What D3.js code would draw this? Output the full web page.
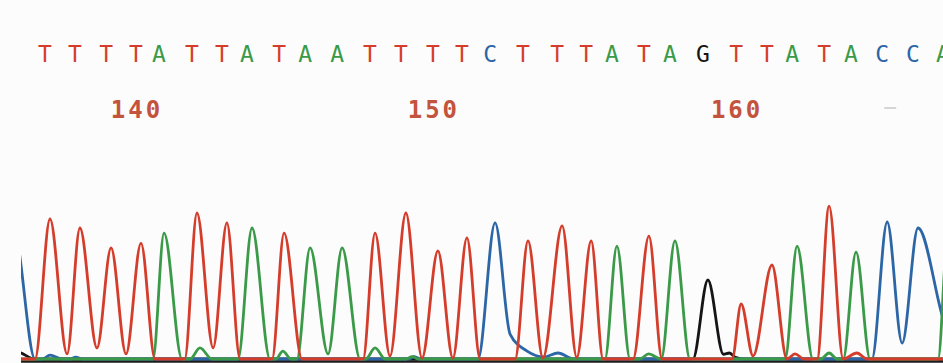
<!DOCTYPE html>
<html>
<head>
<meta charset="utf-8">
<script src="https://cdn.jsdelivr.net/npm/d3@7/dist/d3.min.js"></script>
<style>
  html, body { margin: 0; padding: 0; background: #ffffff; }
  svg { display: block; }
</style>
</head>
<body>
<div id="chart"></div>
<script>
// ---- DATA ----
const bases = ["T","T","T","T","A","T","T","A","T","A","A","T","T","T","T","C","T","T","T","A","T","A","G","T","T","A","T","A","C","C","A"];
// peak positions of each called base (in base-index units)
const basePos = [0,1.00,2.04,3.04,3.81,4.91,5.91,6.75,7.82,8.69,9.76,10.86,11.89,12.96,13.93,14.87,15.97,17.11,18.08,18.94,20.01,20.88,21.98,23.09,24.12,24.96,26.03,26.93,27.97,29.00,30.00];
const tickLabels = ["140","150","160"];
const tickIndex = [3,13,23];
const minorTickIndex = [28];

// traces: [position, signal]
const traceT = [[-1.6,0],[-0.5,0],[0,886],[0.57,32],[1.0,829],[1.57,70],[2.04,703],[2.54,32],[3.04,734],[3.51,0],[4.5,0],[4.91,924],[5.45,70],[5.91,861],[6.35,0],[7.42,0],[7.82,797],[8.42,0],[10.46,0],[10.86,797],[11.36,19],[11.89,924],[12.43,6],[12.96,684],[13.46,6],[13.93,766],[14.37,0],[15.54,0],[15.97,747],[16.47,6],[17.11,842],[17.6,10],[18.08,747],[18.48,0],[19.48,0],[20.01,778],[20.45,0],[22.79,0],[23.09,348],[23.49,19],[24.12,595],[24.62,0],[24.89,32],[25.2,0],[25.63,0],[26.03,968],[26.5,0],[26.96,38],[27.3,0],[31,0]];
const traceA = [[-1.6,0],[3.44,0],[3.81,797],[4.41,0],[4.68,0],[5.01,70],[5.41,0],[6.28,0],[6.75,829],[7.35,0],[7.55,0],[7.78,50],[8.05,0],[8.25,0],[8.69,703],[9.29,32],[9.76,703],[10.36,0],[10.55,0],[10.86,70],[11.2,0],[11.9,0],[12.1,15],[12.3,0],[18.54,0],[18.94,715],[19.38,0],[19.7,0],[20.0,32],[20.42,0],[20.88,747],[21.38,0],[24.56,0],[24.96,715],[25.49,0],[25.75,0],[26.03,38],[26.3,0],[26.5,0],[26.93,677],[27.4,0],[29.67,0],[30.0,800],[30.5,0]];
const traceC = [[-1.9,0],[-1.2,800],[-0.5,0],[-0.25,0],[0,25],[0.4,0],[0.7,0],[0.85,12],[1.1,0],[12.0,0],[12.15,15],[12.4,0],[14.3,0],[14.87,861],[15.37,158],[15.94,50],[16.5,13],[16.97,38],[17.5,0],[27.46,0],[27.97,867],[28.47,101],[29.0,829],[29.83,260],[30.3,0],[31,0]];
const traceG = [[-1.6,60],[-1.0,40],[-0.5,0],[21.48,0],[21.98,500],[22.5,30],[22.7,38],[22.9,10],[23.2,0],[31,0]];

const colors = { T: "#d43d2b", A: "#3a9a48", C: "#2c66a6", G: "#151515" };
const tickColor = "#c4533d";

// ---- DRAW ----
const W = 943, H = 363;
const svg = d3.select("#chart").append("svg").attr("width", W).attr("height", H);
svg.append("rect").attr("width", W).attr("height", H).attr("fill", "#fcfcfc");

const x = d3.scaleLinear().domain([0, 29]).range([50, 918]);
const y = d3.scaleLinear().domain([0, 1000]).range([359, 201]);

// base calls
svg.append("g").selectAll("text").data(bases).join("text")
  .attr("x", (d, i) => x(basePos[i]) - 5)
  .attr("y", 62)
  .attr("text-anchor", "middle")
  .attr("font-family", "DejaVu Sans Mono, monospace")
  .attr("font-size", 23)
  .attr("fill", d => colors[d])
  .text(d => d);

// position labels
svg.append("g").selectAll("text").data(tickLabels).join("text")
  .attr("x", (d, i) => x(basePos[tickIndex[i]]) - 4)
  .attr("y", 118)
  .attr("text-anchor", "middle")
  .attr("font-family", "DejaVu Sans Mono, monospace")
  .attr("font-weight", "bold")
  .attr("font-size", 24)
  .attr("letter-spacing", 3)
  .attr("fill", tickColor)
  .text(d => d);

svg.append("g").selectAll("line").data(minorTickIndex).join("line")
  .attr("x1", d => x(basePos[d]) - 3)
  .attr("x2", d => x(basePos[d]) + 9)
  .attr("y1", 108).attr("y2", 108)
  .attr("stroke", "#c8c8c8").attr("stroke-width", 1.5);

// traces
svg.append("clipPath").attr("id", "plotclip").append("rect")
  .attr("x", 21).attr("y", 150).attr("width", W - 21).attr("height", H - 150);

const plot = svg.append("g").attr("clip-path", "url(#plotclip)");
const line = d3.line().x(d => x(d[0])).y(d => y(d[1])).curve(d3.curveMonotoneX);

plot.append("line").attr("x1", 21).attr("x2", W).attr("y1", 361.5).attr("y2", 361.5)
  .attr("stroke", "#1c1c1c").attr("stroke-width", 2.5);

[[traceG, colors.G], [traceC, colors.C], [traceA, colors.A], [traceT, colors.T]].forEach(([data, c]) => {
  plot.append("path").datum(data).attr("d", line)
    .attr("fill", "none").attr("stroke", c).attr("stroke-width", 2.8)
    .attr("stroke-linejoin", "round");
});
</script>
</body>
</html>
